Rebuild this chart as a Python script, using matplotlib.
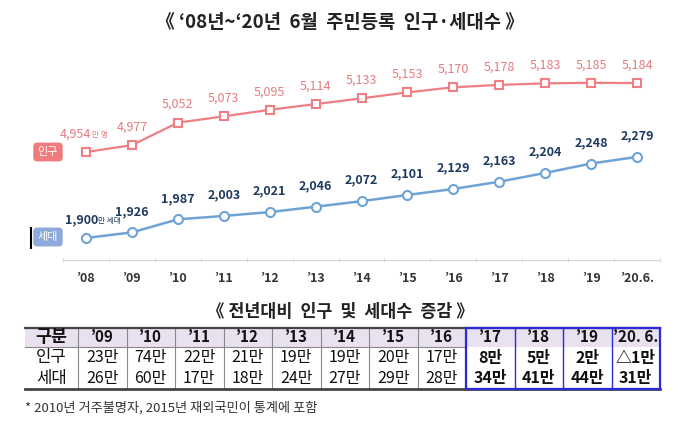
import matplotlib.pyplot as plt
from matplotlib.patches import Rectangle

plt.rcParams['font.family'] = ['Noto Sans CJK KR', 'DejaVu Sans']

# chart data (만 명 / 만 세대)
years = ["’08", "’09", "’10", "’11", "’12", "’13", "’14", "’15", "’16",
         "’17", "’18", "’19", "’20.6."]
population = [4954, 4977, 5052, 5073, 5095, 5114, 5133, 5153, 5170, 5178, 5183, 5185, 5184]
households = [1900, 1926, 1987, 2003, 2021, 2046, 2072, 2101, 2129, 2163, 2204, 2248, 2279]

# table data
tbl_cols = ["’09", "’10", "’11", "’12", "’13", "’14", "’15", "’16",
            "’17", "’18", "’19", "’20. 6."]
pop_change = ["23만", "74만", "22만", "21만", "19만", "19만", "20만", "17만",
              "8만", "5만", "2만", "△1만"]
hh_change = ["26만", "60만", "17만", "18만", "24만", "27만", "29만", "28만",
             "34만", "41만", "44만", "31만"]

pink = "#ef7f84"
pink_txt = "#e57b80"
blue = "#6fa3d6"
navy = "#1f3a60"

fig = plt.figure(figsize=(6.8, 4.29), dpi=100)

# overlay axes in pixel coords for titles / table
ov = fig.add_axes([0, 0, 1, 1])
ov.set_xlim(0, 680)
ov.set_ylim(429, 0)
ov.axis("off")

ov.text(340, 22, "《 ‘08년~‘20년  6월  주민등록  인구·세대수 》", ha="center", va="center",
        fontsize=13.5, fontweight="bold", color="#222")

# line chart
ax = fig.add_axes([63 / 680, (429 - 260) / 429, 597 / 680, 200 / 429])
ax.patch.set_alpha(0)
x = list(range(len(years)))
ax.plot(x, population, color=pink, lw=1.6, marker="s", ms=6, mfc="white",
        mec=pink, mew=1.5, zorder=3)
ax.set_xlim(-0.5, 12.5)
ax.set_ylim(4594, 5261)

ax2 = ax.twinx()
ax2.plot(x, households, color=blue, lw=1.8, marker="o", ms=6.5, mfc="white",
         mec=blue, mew=1.5, zorder=3)
ax2.set_ylim(1797, 2732)

for a in (ax, ax2):
    for s in ("top", "left", "right"):
        a.spines[s].set_visible(False)
    a.set_yticks([])
ax2.spines["bottom"].set_visible(False)
ax.spines["bottom"].set_color("#d4d4d4")
ax.set_xticks(x)
ax.set_xticklabels(years, fontsize=9, fontweight="bold", color="#333")
ax.tick_params(axis="x", length=0, pad=9)
ax.set_xticks([i - 0.5 for i in range(len(years) + 1)], minor=True)
ax.tick_params(axis="x", which="minor", length=3, direction="inout", color="#d4d4d4")

for i, v in enumerate(population):
    if i == 0:
        ax.annotate(f"{v:,}", (i, v), xytext=(4, 13), textcoords="offset points",
                    ha="right", va="center", fontsize=9, color=pink_txt)
        ax.annotate("만 명", (i, v), xytext=(4, 12.5), textcoords="offset points",
                    ha="left", va="center", fontsize=5.5, color=pink_txt)
    else:
        ax.annotate(f"{v:,}", (i, v), xytext=(0, 13), textcoords="offset points",
                    ha="center", va="center", fontsize=9, color=pink_txt)

for i, v in enumerate(households):
    if i == 0:
        ax2.annotate(f"{v:,}", (i, v), xytext=(9, 13), textcoords="offset points",
                     ha="right", va="center", fontsize=9, color=navy, fontweight="bold")
        ax2.annotate("만 세대", (i, v), xytext=(9, 12.5), textcoords="offset points",
                     ha="left", va="center", fontsize=5.5, color=navy)
    else:
        ax2.annotate(f"{v:,}", (i, v), xytext=(0, 15), textcoords="offset points",
                     ha="center", va="center", fontsize=9, color=navy, fontweight="bold")

# series tags
ov.text(48, 152, "인구", ha="center", va="center", fontsize=8, color="white",
        bbox=dict(boxstyle="round,pad=0.4,rounding_size=0.35", fc="#f07b7d", ec="none"))
ov.text(48, 237, "세대", ha="center", va="center", fontsize=8, color="white",
        bbox=dict(boxstyle="round,pad=0.4,rounding_size=0.35", fc="#8eaadc", ec="none"))
ov.plot([31, 31], [228, 248], color="black", lw=1.5, zorder=6)

# table
ov.text(340, 312, "《 전년대비  인구  및  세대수  증감 》", ha="center", va="center",
        fontsize=12.5, fontweight="bold", color="#222")

x0, x1, cw = 25, 78, 48.5
rows_y = [328, 347, 368, 389]
ov.add_patch(Rectangle((x0, rows_y[0]), x1 + 12 * cw - x0, rows_y[1] - rows_y[0],
                       fc="#e9e0f0", ec="none"))
for i in range(9):
    xx = x1 + i * cw
    ov.plot([xx, xx], [rows_y[0], rows_y[3]], color="#8a8a8a", lw=0.8)
ov.plot([x0, x1 + 8 * cw], [rows_y[1], rows_y[1]], color="#8a8a8a", lw=0.8)
ov.plot([x0, x1 + 12 * cw], [rows_y[0], rows_y[0]], color="#444", lw=1.6)
ov.plot([x0, x1 + 12 * cw], [rows_y[3], rows_y[3]], color="#444", lw=2)

bx = x1 + 8 * cw
ov.add_patch(Rectangle((bx, rows_y[0]), 4 * cw, rows_y[3] - rows_y[0],
                       fc="none", ec="#2a2ad6", lw=1.6, zorder=5))
for i in range(1, 4):
    ov.plot([bx + i * cw, bx + i * cw], [rows_y[0], rows_y[3]], color="#2a2ad6", lw=1.0, zorder=5)

def cy(r):
    return (rows_y[r] + rows_y[r + 1]) / 2

ov.text((x0 + x1) / 2, cy(0), "구분", ha="center", va="center", fontsize=12.5,
        fontweight="bold", color="#111")
ov.text((x0 + x1) / 2, cy(1), "인구", ha="center", va="center", fontsize=12, color="#111")
ov.text((x0 + x1) / 2, cy(2), "세대", ha="center", va="center", fontsize=12, color="#111")
for j, (c, p, h) in enumerate(zip(tbl_cols, pop_change, hh_change)):
    cx = x1 + (j + 0.5) * cw
    w = "bold" if j >= 8 else "normal"
    ov.text(cx, cy(0), c, ha="center", va="center", fontsize=11, fontweight="bold", color="#111")
    ov.text(cx, cy(1), p, ha="center", va="center", fontsize=11.5, fontweight=w, color="#111")
    ov.text(cx, cy(2), h, ha="center", va="center", fontsize=11.5, fontweight=w, color="#111")

ov.text(25, 408, "* 2010년 거주불명자, 2015년 재외국민이 통계에 포함", ha="left", va="center",
        fontsize=9.5, color="#333")

fig.savefig("out.png", dpi=100)
